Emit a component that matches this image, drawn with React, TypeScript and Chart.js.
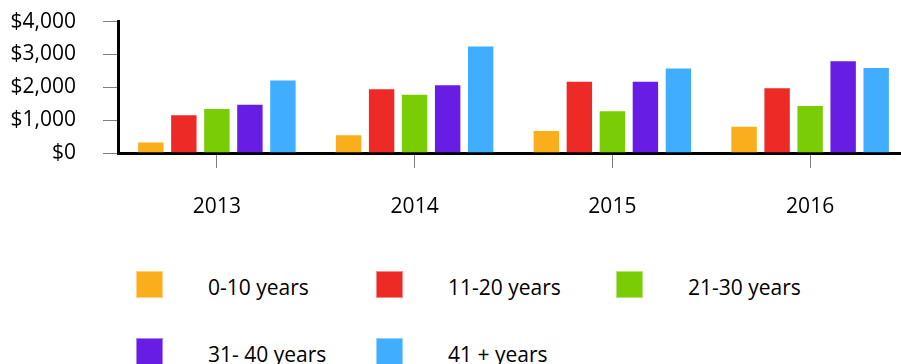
import React, { useEffect, useRef } from "react";
import { Chart, registerables } from "chart.js";

Chart.register(...registerables);

const categories = ["2013", "2014", "2015", "2016"];
const seriesNames = ["0-10 years", "11-20 years", "21-30 years", "31- 40 years", "41 + years"];
const seriesColors = ["#FBAE1C", "#EE2A27", "#7ACD05", "#671DE4", "#40ADFF"];
const values0to10 = [350, 570, 700, 830];
const values11to20 = [1180, 1970, 2200, 2000];
const values21to30 = [1370, 1800, 1300, 1460];
const values31to40 = [1500, 2090, 2200, 2820];
const values41plus = [2240, 3270, 2600, 2620];
const yTickValues = [0, 1000, 2000, 3000, 4000];

const seriesValues = [values0to10, values11to20, values21to30, values31to40, values41plus];

const FONT = "'Open Sans', 'Noto Sans', sans-serif";

export default function App() {
  const canvasRef = useRef<HTMLCanvasElement | null>(null);

  useEffect(() => {
    if (!canvasRef.current) return;
    const chart = new Chart(canvasRef.current, {
      type: "bar",
      data: {
        labels: categories,
        datasets: seriesNames.map((name, i) => ({
          label: name,
          data: seriesValues[i],
          backgroundColor: seriesColors[i],
          borderColor: "rgba(255,255,255,0.45)",
          borderWidth: 1,
          barPercentage: 0.83,
          categoryPercentage: 0.835,
        })),
      },
      options: {
        animation: false,
        responsive: false,
        devicePixelRatio: 1,
        layout: { padding: { top: 2, right: 11, bottom: 0, left: 0 } },
        plugins: {
          legend: { display: false },
          tooltip: { enabled: false },
        },
        scales: {
          x: {
            type: "category",
            offset: true,
            grid: {
              offset: false,
              drawOnChartArea: false,
              drawTicks: true,
              tickLength: 15,
              color: "#7f7f7f",
              lineWidth: 1,
            },
            border: { display: true, color: "#000", width: 3 },
            ticks: {
              padding: 26,
              color: "#000",
              font: { family: FONT, size: 21 },
            },
            afterFit: (s: any) => {
              s.height = 80;
            },
          },
          y: {
            min: yTickValues[0],
            max: yTickValues[yTickValues.length - 1],
            afterBuildTicks: (s: any) => {
              s.ticks = yTickValues.map((v) => ({ value: v }));
            },
            grid: {
              drawOnChartArea: false,
              drawTicks: true,
              tickLength: 15,
              color: "#7f7f7f",
              lineWidth: 1,
            },
            border: { display: true, color: "#000", width: 3 },
            ticks: {
              padding: 27,
              color: "#000",
              font: { family: FONT, size: 21 },
              callback: (v: any) => "$" + Number(v).toLocaleString("en-US"),
            },
            afterFit: (s: any) => {
              s.width = 118;
            },
          },
        },
      },
    });
    return () => chart.destroy();
  }, []);

  return (
    <div
      style={{
        position: "fixed",
        left: 0,
        top: 0,
        width: 901,
        height: 364,
        overflow: "hidden",
        background: "#fff",
      }}
    >
      <canvas
        ref={canvasRef}
        width={920}
        height={251}
        style={{ position: "absolute", left: 0, top: -18, width: 920, height: 251 }}
      />
      {seriesNames.map((name, i) => {
        const col = i % 3;
        const row = Math.floor(i / 3);
        const left = 136 + col * 240;
        const top = 271 + row * 67;
        return (
          <React.Fragment key={name}>
            <div
              style={{
                position: "absolute",
                left,
                top,
                width: 27,
                height: 27,
                boxSizing: "border-box",
                background: seriesColors[i],
                border: "1px solid rgba(255,255,255,0.45)",
              }}
            />
            <div
              style={{
                position: "absolute",
                left: left + 72,
                top: top + 2,
                fontFamily: FONT,
                fontSize: 21,
                lineHeight: "28px",
                color: "#000",
                whiteSpace: "nowrap",
              }}
            >
              {name}
            </div>
          </React.Fragment>
        );
      })}
    </div>
  );
}
